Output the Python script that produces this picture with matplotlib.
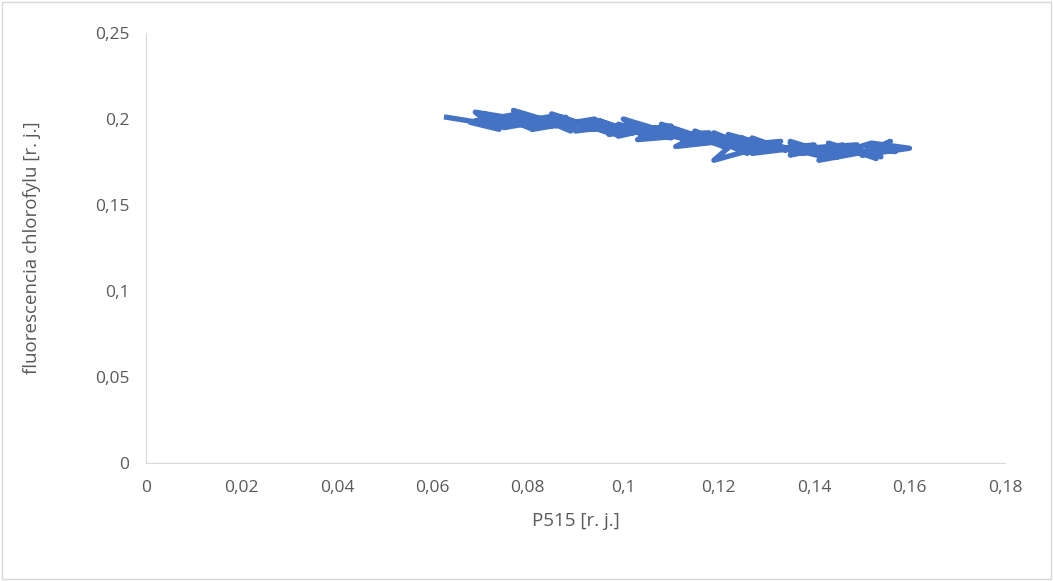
import matplotlib.pyplot as plt
from matplotlib.patches import Rectangle

# hand-read trajectory of the scribbled band
p515 = [0.063, 0.072, 0.069, 0.080, 0.075, 0.088, 0.083, 0.095, 0.090, 0.102,
        0.097, 0.110, 0.105, 0.118, 0.113, 0.125, 0.121, 0.133, 0.128, 0.140,
        0.136, 0.148, 0.143, 0.155, 0.150, 0.160,
        0.152, 0.145, 0.149, 0.138, 0.142, 0.130, 0.134, 0.122, 0.126, 0.115,
        0.119, 0.108, 0.112, 0.100, 0.104, 0.093, 0.097, 0.085, 0.089, 0.077,
        0.081, 0.070, 0.074, 0.068,
        0.078, 0.073, 0.086, 0.081, 0.094, 0.099, 0.107, 0.103, 0.116, 0.111,
        0.124, 0.119, 0.132, 0.127, 0.139, 0.135, 0.146, 0.141, 0.153, 0.156,
        0.151, 0.154, 0.147, 0.150, 0.143, 0.146, 0.139, 0.142, 0.135, 0.138,
        0.131, 0.134, 0.127, 0.130, 0.123, 0.126, 0.119, 0.122, 0.115, 0.118,
        0.111, 0.114, 0.107, 0.110, 0.103, 0.106, 0.099, 0.102, 0.095, 0.098,
        0.091, 0.094, 0.087, 0.090, 0.083, 0.086, 0.079, 0.082, 0.075, 0.078,
        0.071, 0.074, 0.069,
        0.073, 0.071, 0.077, 0.075, 0.081, 0.079, 0.085, 0.083, 0.089, 0.087,
        0.093, 0.091, 0.097, 0.095, 0.101, 0.099, 0.105, 0.103, 0.109, 0.107,
        0.113, 0.111, 0.117, 0.115, 0.121, 0.119, 0.125, 0.123, 0.129, 0.127,
        0.133, 0.131, 0.137, 0.135, 0.141, 0.139, 0.145, 0.143, 0.149, 0.147,
        0.153, 0.151, 0.157, 0.155]
fluor = [0.201, 0.197, 0.204, 0.199, 0.195, 0.201, 0.196, 0.199, 0.193, 0.197,
         0.191, 0.196, 0.190, 0.192, 0.186, 0.189, 0.184, 0.187, 0.181, 0.185,
         0.180, 0.184, 0.178, 0.183, 0.179, 0.183,
         0.186, 0.180, 0.185, 0.183, 0.178, 0.186, 0.182, 0.191, 0.180, 0.193,
         0.187, 0.197, 0.190, 0.200, 0.194, 0.198, 0.192, 0.203, 0.195, 0.205,
         0.197, 0.200, 0.194, 0.198,
         0.203, 0.196, 0.202, 0.194, 0.200, 0.190, 0.195, 0.188, 0.191, 0.184,
         0.188, 0.176, 0.186, 0.180, 0.184, 0.179, 0.185, 0.176, 0.182, 0.187,
         0.181, 0.178, 0.184, 0.180, 0.186, 0.179, 0.183, 0.181, 0.187, 0.180,
         0.185, 0.182, 0.189, 0.183, 0.187, 0.184, 0.192, 0.185, 0.190, 0.187,
         0.194, 0.188, 0.192, 0.189, 0.197, 0.190, 0.195, 0.192, 0.199, 0.193,
         0.197, 0.194, 0.201, 0.195, 0.199, 0.196, 0.203, 0.197, 0.200, 0.198,
         0.202, 0.196, 0.199,
         0.195, 0.203, 0.197, 0.201, 0.194, 0.203, 0.196, 0.200, 0.193, 0.201,
         0.195, 0.198, 0.192, 0.199, 0.193, 0.197, 0.190, 0.196, 0.191, 0.194,
         0.188, 0.193, 0.186, 0.190, 0.184, 0.191, 0.185, 0.188, 0.182, 0.187,
         0.183, 0.185, 0.180, 0.186, 0.181, 0.184, 0.178, 0.185, 0.180, 0.183,
         0.177, 0.184, 0.181, 0.185]

plt.rcParams['font.family'] = ['Open Sans', 'DejaVu Sans']
fig = plt.figure(figsize=(10.53, 5.81), dpi=100)
ax = fig.add_axes([146/1053, 1-463/581, 859/1053, 430/581])
ax.plot(p515, fluor, color="#4472C4", linewidth=3.8)
ax.set_xlim(0, 0.18)
ax.set_ylim(0, 0.25)
xt = [0, 0.02, 0.04, 0.06, 0.08, 0.1, 0.12, 0.14, 0.16, 0.18]
yt = [0, 0.05, 0.1, 0.15, 0.2, 0.25]
ax.set_xticks(xt)
ax.set_xticklabels([f"{v:g}".replace(".", ",") for v in xt])
ax.set_yticks(yt)
ax.set_yticklabels([f"{v:g}".replace(".", ",") for v in yt])
ax.tick_params(length=0, labelsize=12.5, colors="#595959", pad=12)
for s in ["top", "right"]:
    ax.spines[s].set_visible(False)
for s in ["left", "bottom"]:
    ax.spines[s].set_color("#d9d9d9")
ax.set_xlabel("P515 [r. j.]", fontsize=13.5, color="#595959", labelpad=12)
ax.set_ylabel("fluorescencia chlorofylu [r. j.]", fontsize=13.5, color="#595959", labelpad=10)
ax.yaxis.set_label_coords(-105/859, 0.5)
fig.patches.append(Rectangle((0.002, 0.003), 0.996, 0.994, transform=fig.transFigure,
                             fill=False, edgecolor="#d9d9d9", linewidth=1))
fig.savefig("out.png", dpi=100)
